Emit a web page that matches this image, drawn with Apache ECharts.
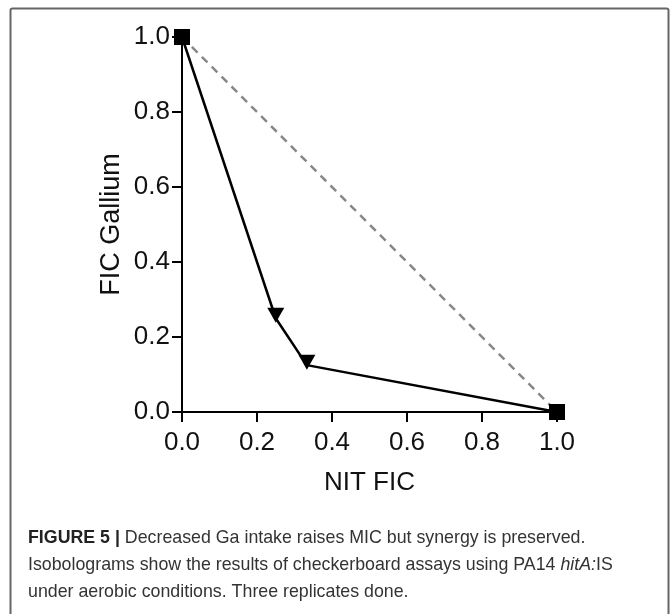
<!DOCTYPE html>
<html>
<head>
<meta charset="utf-8">
<script src="https://cdn.jsdelivr.net/npm/echarts@6/dist/echarts.min.js"></script>
<style>
  html, body { margin: 0; padding: 0; background: #fff; }
  #chart { width: 670px; height: 614px; }
</style>
</head>
<body>
<div id="chart"></div>
<script>
// isobologram points (NIT FIC, FIC Gallium)
const nitFic = [0, 0.25, 0.333, 1];
const galliumFic = [1, 0.25, 0.125, 0];
// additivity line
const additiveX = [0, 1];
const additiveY = [1, 0];

const captionLines = [
  '{b|FIGURE 5 |} Decreased Ga intake raises MIC but synergy is preserved.',
  'Isobolograms show the results of checkerboard assays using PA14 {i|hitA:}IS',
  'under aerobic conditions. Three replicates done.'
];

const font = 'Liberation Sans, Arial, sans-serif';
const tri = 'path://M0,0 L10,0 L5,9 Z';
const isEnd = i => i === 0 || i === nitFic.length - 1;

const chart = echarts.init(document.getElementById('chart'));

const option = {
  animation: false,
  grid: { left: 182, right: 113, top: 37, bottom: 202 },
  xAxis: {
    type: 'value',
    min: 0, max: 1, interval: 0.2,
    name: 'NIT FIC',
    nameLocation: 'middle',
    nameGap: 58,
    nameMoveOverlap: false,
    nameTextStyle: { fontFamily: font, fontSize: 26, color: '#111' },
    axisLine: { onZero: false, lineStyle: { color: '#000', width: 2 } },
    axisTick: { show: true, length: 10, lineStyle: { color: '#000', width: 2 } },
    axisLabel: { fontFamily: font, fontSize: 26, color: '#111', margin: 18,
      formatter: v => v.toFixed(1) },
    splitLine: { show: false }
  },
  yAxis: {
    type: 'value',
    min: 0, max: 1, interval: 0.2,
    name: 'FIC Gallium',
    nameLocation: 'middle',
    nameGap: 57,
    nameMoveOverlap: false,
    nameTextStyle: { fontFamily: font, fontSize: 27, color: '#111' },
    axisLine: { show: true, onZero: false, lineStyle: { color: '#000', width: 2 } },
    axisTick: { show: true, length: 10, lineStyle: { color: '#000', width: 2 } },
    axisLabel: { fontFamily: font, fontSize: 26, color: '#111', margin: 12,
      formatter: v => v.toFixed(1) },
    splitLine: { show: false }
  },
  graphic: [
    {
      type: 'rect',
      shape: { x: 10.5, y: 8.5, width: 658, height: 640, r: 2 },
      style: { fill: 'none', stroke: '#666', lineWidth: 2 },
      z: -1
    }
  ].concat(captionLines.map((line, i) => ({
    type: 'text',
    left: 28,
    top: 529 + i * 27,
    style: {
      text: line,
      fontFamily: font,
      fontSize: 17.8,
      fill: '#333',
      rich: {
        b: { fontWeight: 'bold', fontFamily: font, fontSize: 17.8, fill: '#222' },
        i: { fontStyle: 'italic', fontFamily: font, fontSize: 17.8, fill: '#333' }
      }
    }
  }))),
  series: [
    {
      type: 'line',
      data: additiveX.map((x, i) => [x, additiveY[i]]),
      showSymbol: false,
      lineStyle: { color: '#888', width: 2.5, type: [8, 6] },
      z: 1
    },
    {
      type: 'line',
      data: nitFic.map((x, i) => [x, galliumFic[i]]),
      symbol: (v, p) => isEnd(p.dataIndex) ? 'rect' : tri,
      symbolSize: (v, p) => isEnd(p.dataIndex) ? 16 : [17, 15],
      symbolOffset: (v, p) => isEnd(p.dataIndex) ? [0, 0] : [0, -3],
      itemStyle: { color: '#000' },
      lineStyle: { color: '#000', width: 2.5 },
      clip: false,
      z: 3
    }
  ]
};

chart.setOption(option);
</script>
</body>
</html>
